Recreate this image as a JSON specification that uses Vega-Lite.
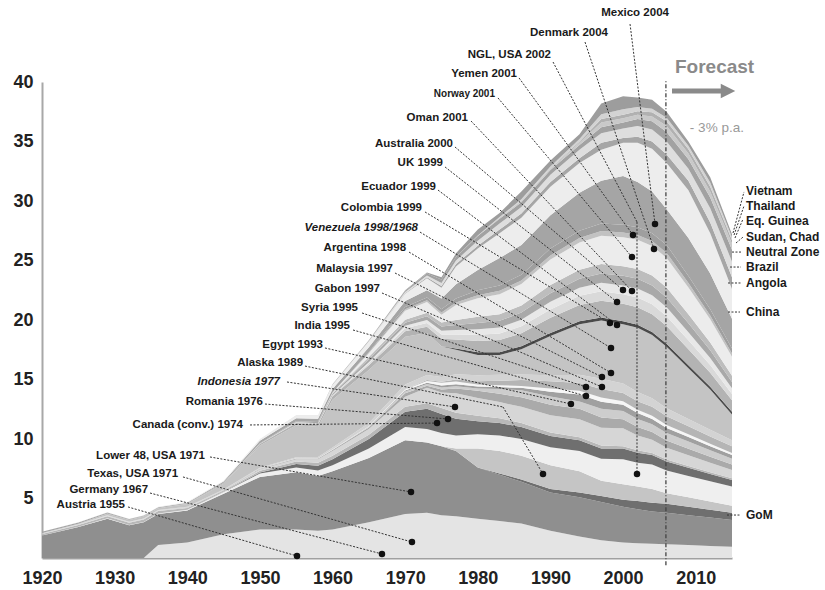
{
"$schema": "https://vega.github.io/schema/vega-lite/v6.json",
"width": 690, "height": 476,
"autosize": "none",
"padding": {"left": 42, "top": 82, "right": 93, "bottom": 32},
"background": "white",
"config": {"view": {"stroke": null}, "font": "Liberation Sans", "text": {"font": "Liberation Sans"}},
"datasets": {
"prod": [
{"year":1920,"s01_tx":0,"s02_l48":1.9,"s03_gom":0,"s04_ak":0,"s05_ngl":0,"s06_ca":0,"s07_ro":0.12,"s08_id":0.03,"s09_eg":0,"s10_in":0,"s11_sy":0,"s12_ga":0,"s13_my":0,"s14_ar":0.02,"s15_ve":0.02,"s16_ve_edge":0,"s17_co":0.01,"s18_ec":0,"s19_uk":0,"s20_au":0,"s21_om":0,"s22_no":0,"s23_ye":0,"s24_dk":0,"s25_mx":0.1,"s26_cn":0,"s27_ao":0,"s28_br":0,"s29_nz":0,"s30_sd":0,"s31_gq":0,"s32_th":0,"s33_vn":0},
{"year":1925,"s01_tx":0,"s02_l48":2.6,"s03_gom":0,"s04_ak":0,"s05_ngl":0.02,"s06_ca":0,"s07_ro":0.15,"s08_id":0.04,"s09_eg":0,"s10_in":0,"s11_sy":0,"s12_ga":0,"s13_my":0,"s14_ar":0.02,"s15_ve":0.02,"s16_ve_edge":0,"s17_co":0.02,"s18_ec":0,"s19_uk":0,"s20_au":0,"s21_om":0,"s22_no":0,"s23_ye":0,"s24_dk":0,"s25_mx":0.12,"s26_cn":0.01,"s27_ao":0,"s28_br":0,"s29_nz":0,"s30_sd":0,"s31_gq":0,"s32_th":0,"s33_vn":0},
{"year":1929,"s01_tx":0,"s02_l48":3.3,"s03_gom":0,"s04_ak":0,"s05_ngl":0.03,"s06_ca":0,"s07_ro":0.18,"s08_id":0.05,"s09_eg":0,"s10_in":0,"s11_sy":0,"s12_ga":0,"s13_my":0,"s14_ar":0.03,"s15_ve":0.13,"s16_ve_edge":0,"s17_co":0.03,"s18_ec":0,"s19_uk":0,"s20_au":0,"s21_om":0,"s22_no":0,"s23_ye":0,"s24_dk":0,"s25_mx":0.08,"s26_cn":0.02,"s27_ao":0,"s28_br":0,"s29_nz":0,"s30_sd":0,"s31_gq":0,"s32_th":0,"s33_vn":0},
{"year":1932,"s01_tx":0,"s02_l48":2.75,"s03_gom":0,"s04_ak":0,"s05_ngl":0.03,"s06_ca":0,"s07_ro":0.18,"s08_id":0.05,"s09_eg":0,"s10_in":0,"s11_sy":0,"s12_ga":0,"s13_my":0,"s14_ar":0.03,"s15_ve":0.15,"s16_ve_edge":0,"s17_co":0.03,"s18_ec":0,"s19_uk":0,"s20_au":0,"s21_om":0,"s22_no":0,"s23_ye":0,"s24_dk":0,"s25_mx":0.06,"s26_cn":0.02,"s27_ao":0,"s28_br":0,"s29_nz":0,"s30_sd":0,"s31_gq":0,"s32_th":0,"s33_vn":0},
{"year":1934,"s01_tx":0,"s02_l48":3.0,"s03_gom":0,"s04_ak":0,"s05_ngl":0.03,"s06_ca":0,"s07_ro":0.2,"s08_id":0.06,"s09_eg":0,"s10_in":0,"s11_sy":0,"s12_ga":0,"s13_my":0,"s14_ar":0.03,"s15_ve":0.17,"s16_ve_edge":0,"s17_co":0.03,"s18_ec":0,"s19_uk":0,"s20_au":0,"s21_om":0,"s22_no":0,"s23_ye":0,"s24_dk":0,"s25_mx":0.06,"s26_cn":0.02,"s27_ao":0,"s28_br":0,"s29_nz":0,"s30_sd":0,"s31_gq":0,"s32_th":0,"s33_vn":0},
{"year":1936,"s01_tx":1.1,"s02_l48":2.6,"s03_gom":0,"s04_ak":0,"s05_ngl":0.04,"s06_ca":0,"s07_ro":0.2,"s08_id":0.06,"s09_eg":0,"s10_in":0,"s11_sy":0,"s12_ga":0,"s13_my":0,"s14_ar":0.04,"s15_ve":0.14,"s16_ve_edge":0,"s17_co":0.03,"s18_ec":0,"s19_uk":0,"s20_au":0,"s21_om":0,"s22_no":0,"s23_ye":0,"s24_dk":0,"s25_mx":0.06,"s26_cn":0.03,"s27_ao":0,"s28_br":0,"s29_nz":0,"s30_sd":0,"s31_gq":0,"s32_th":0,"s33_vn":0},
{"year":1940,"s01_tx":1.3,"s02_l48":2.7,"s03_gom":0,"s04_ak":0,"s05_ngl":0.05,"s06_ca":0,"s07_ro":0.15,"s08_id":0.05,"s09_eg":0.02,"s10_in":0,"s11_sy":0,"s12_ga":0,"s13_my":0,"s14_ar":0.04,"s15_ve":0.22,"s16_ve_edge":0,"s17_co":0.05,"s18_ec":0,"s19_uk":0,"s20_au":0,"s21_om":0,"s22_no":0,"s23_ye":0,"s24_dk":0,"s25_mx":0.07,"s26_cn":0.05,"s27_ao":0,"s28_br":0,"s29_nz":0,"s30_sd":0,"s31_gq":0,"s32_th":0,"s33_vn":0},
{"year":1945,"s01_tx":2.0,"s02_l48":3.4,"s03_gom":0,"s04_ak":0,"s05_ngl":0.15,"s06_ca":0.02,"s07_ro":0.1,"s08_id":0.02,"s09_eg":0.02,"s10_in":0,"s11_sy":0,"s12_ga":0,"s13_my":0,"s14_ar":0.05,"s15_ve":0.48,"s16_ve_edge":0,"s17_co":0.08,"s18_ec":0,"s19_uk":0,"s20_au":0,"s21_om":0,"s22_no":0,"s23_ye":0,"s24_dk":0,"s25_mx":0.1,"s26_cn":0.08,"s27_ao":0,"s28_br":0,"s29_nz":0,"s30_sd":0,"s31_gq":0,"s32_th":0,"s33_vn":0},
{"year":1950,"s01_tx":2.4,"s02_l48":4.4,"s03_gom":0,"s04_ak":0,"s05_ngl":0.3,"s06_ca":0.08,"s07_ro":0.15,"s08_id":0.13,"s09_eg":0.05,"s10_in":0.01,"s11_sy":0,"s12_ga":0,"s13_my":0,"s14_ar":0.07,"s15_ve":1.86,"s16_ve_edge":0,"s17_co":0.12,"s18_ec":0.04,"s19_uk":0,"s20_au":0.04,"s21_om":0,"s22_no":0,"s23_ye":0,"s24_dk":0,"s25_mx":0.2,"s26_cn":0.15,"s27_ao":0,"s28_br":0,"s29_nz":0,"s30_sd":0,"s31_gq":0,"s32_th":0,"s33_vn":0},
{"year":1955,"s01_tx":2.4,"s02_l48":4.8,"s03_gom":0,"s04_ak":0,"s05_ngl":0.4,"s06_ca":0.3,"s07_ro":0.2,"s08_id":0.2,"s09_eg":0.06,"s10_in":0.01,"s11_sy":0,"s12_ga":0.01,"s13_my":0,"s14_ar":0.09,"s15_ve":2.68,"s16_ve_edge":0,"s17_co":0.2,"s18_ec":0.07,"s19_uk":0,"s20_au":0.08,"s21_om":0,"s22_no":0,"s23_ye":0,"s24_dk":0,"s25_mx":0.25,"s26_cn":0.2,"s27_ao":0,"s28_br":0.05,"s29_nz":0,"s30_sd":0,"s31_gq":0,"s32_th":0,"s33_vn":0},
{"year":1958,"s01_tx":2.3,"s02_l48":4.6,"s03_gom":0,"s04_ak":0,"s05_ngl":0.45,"s06_ca":0.4,"s07_ro":0.25,"s08_id":0.3,"s09_eg":0.06,"s10_in":0.01,"s11_sy":0,"s12_ga":0.01,"s13_my":0,"s14_ar":0.1,"s15_ve":2.54,"s16_ve_edge":0,"s17_co":0.22,"s18_ec":0.08,"s19_uk":0,"s20_au":0.1,"s21_om":0,"s22_no":0,"s23_ye":0,"s24_dk":0,"s25_mx":0.28,"s26_cn":0.25,"s27_ao":0,"s28_br":0.05,"s29_nz":0,"s30_sd":0,"s31_gq":0,"s32_th":0,"s33_vn":0},
{"year":1960,"s01_tx":2.4,"s02_l48":4.9,"s03_gom":0,"s04_ak":0,"s05_ngl":0.5,"s06_ca":0.5,"s07_ro":0.3,"s08_id":0.4,"s09_eg":0.07,"s10_in":0.02,"s11_sy":0,"s12_ga":0.02,"s13_my":0,"s14_ar":0.18,"s15_ve":4.01,"s16_ve_edge":0,"s17_co":0.3,"s18_ec":0.1,"s19_uk":0,"s20_au":0.1,"s21_om":0.05,"s22_no":0.05,"s23_ye":0,"s24_dk":0,"s25_mx":0.3,"s26_cn":0.3,"s27_ao":0,"s28_br":0.05,"s29_nz":0.05,"s30_sd":0,"s31_gq":0,"s32_th":0,"s33_vn":0},
{"year":1965,"s01_tx":3.0,"s02_l48":5.4,"s03_gom":0,"s04_ak":0,"s05_ngl":0.8,"s06_ca":0.8,"s07_ro":0.35,"s08_id":0.5,"s09_eg":0.12,"s10_in":0.07,"s11_sy":0,"s12_ga":0.03,"s13_my":0,"s14_ar":0.27,"s15_ve":4.46,"s16_ve_edge":0,"s17_co":0.4,"s18_ec":0.15,"s19_uk":0.1,"s20_au":0.25,"s21_om":0.2,"s22_no":0.3,"s23_ye":0.05,"s24_dk":0.05,"s25_mx":0.4,"s26_cn":0.45,"s27_ao":0,"s28_br":0.08,"s29_nz":0.07,"s30_sd":0,"s31_gq":0,"s32_th":0,"s33_vn":0},
{"year":1970,"s01_tx":3.7,"s02_l48":6.2,"s03_gom":0,"s04_ak":0,"s05_ngl":1.1,"s06_ca":1.3,"s07_ro":0.4,"s08_id":0.85,"s09_eg":0.3,"s10_in":0.14,"s11_sy":0.08,"s12_ga":0.1,"s13_my":0.02,"s14_ar":0.4,"s15_ve":4.01,"s16_ve_edge":0,"s17_co":0.45,"s18_ec":0.25,"s19_uk":0.22,"s20_au":0.25,"s21_om":0.25,"s22_no":0.75,"s23_ye":0.13,"s24_dk":0.2,"s25_mx":0.5,"s26_cn":0.6,"s27_ao":0.05,"s28_br":0.1,"s29_nz":0.1,"s30_sd":0,"s31_gq":0,"s32_th":0,"s33_vn":0.05},
{"year":1973,"s01_tx":3.8,"s02_l48":5.9,"s03_gom":0,"s04_ak":0,"s05_ngl":1.15,"s06_ca":1.7,"s07_ro":0.45,"s08_id":1.3,"s09_eg":0.17,"s10_in":0.15,"s11_sy":0.1,"s12_ga":0.15,"s13_my":0.08,"s14_ar":0.42,"s15_ve":3.53,"s16_ve_edge":0,"s17_co":0.54,"s18_ec":0.3,"s19_uk":0.27,"s20_au":0.3,"s21_om":0.3,"s22_no":0.9,"s23_ye":0.15,"s24_dk":0.24,"s25_mx":0.6,"s26_cn":1.0,"s27_ao":0.1,"s28_br":0.15,"s29_nz":0.15,"s30_sd":0,"s31_gq":0,"s32_th":0,"s33_vn":0.1},
{"year":1975,"s01_tx":3.6,"s02_l48":5.8,"s03_gom":0,"s04_ak":0,"s05_ngl":1.1,"s06_ca":1.6,"s07_ro":0.5,"s08_id":1.3,"s09_eg":0.25,"s10_in":0.17,"s11_sy":0.18,"s12_ga":0.22,"s13_my":0.1,"s14_ar":0.4,"s15_ve":2.58,"s16_ve_edge":0,"s17_co":0.63,"s18_ec":0.35,"s19_uk":0.32,"s20_au":0.35,"s21_om":0.35,"s22_no":0.65,"s23_ye":0.17,"s24_dk":0.28,"s25_mx":0.9,"s26_cn":0.9,"s27_ao":0.15,"s28_br":0.25,"s29_nz":0.3,"s30_sd":0,"s31_gq":0,"s32_th":0,"s33_vn":0.2},
{"year":1977,"s01_tx":3.5,"s02_l48":5.5,"s03_gom":0,"s04_ak":0.2,"s05_ngl":1.1,"s06_ca":1.4,"s07_ro":0.5,"s08_id":1.65,"s09_eg":0.4,"s10_in":0.18,"s11_sy":0.18,"s12_ga":0.22,"s13_my":0.18,"s14_ar":0.43,"s15_ve":2.06,"s16_ve_edge":0.1,"s17_co":0.76,"s18_ec":0.42,"s19_uk":0.38,"s20_au":0.42,"s21_om":0.42,"s22_no":1.26,"s23_ye":0.21,"s24_dk":0.33,"s25_mx":1.2,"s26_cn":1.5,"s27_ao":0.2,"s28_br":0.3,"s29_nz":0.3,"s30_sd":0,"s31_gq":0,"s32_th":0,"s33_vn":0.3},
{"year":1980,"s01_tx":3.3,"s02_l48":4.3,"s03_gom":0,"s04_ak":1.6,"s05_ngl":1.2,"s06_ca":1.1,"s07_ro":0.45,"s08_id":1.5,"s09_eg":0.6,"s10_in":0.2,"s11_sy":0.16,"s12_ga":0.17,"s13_my":0.28,"s14_ar":0.5,"s15_ve":1.69,"s16_ve_edge":0.25,"s17_co":0.94,"s18_ec":0.52,"s19_uk":0.47,"s20_au":0.52,"s21_om":0.52,"s22_no":1.56,"s23_ye":0.26,"s24_dk":0.41,"s25_mx":1.7,"s26_cn":1.8,"s27_ao":0.25,"s28_br":0.4,"s29_nz":0.4,"s30_sd":0,"s31_gq":0,"s32_th":0.05,"s33_vn":0.5},
{"year":1983,"s01_tx":3.1,"s02_l48":3.9,"s03_gom":0.1,"s04_ak":1.9,"s05_ngl":1.3,"s06_ca":1.05,"s07_ro":0.4,"s08_id":1.35,"s09_eg":0.7,"s10_in":0.4,"s11_sy":0.16,"s12_ga":0.15,"s13_my":0.38,"s14_ar":0.5,"s15_ve":1.66,"s16_ve_edge":0.25,"s17_co":1.01,"s18_ec":0.56,"s19_uk":0.5,"s20_au":0.56,"s21_om":0.56,"s22_no":1.68,"s23_ye":0.28,"s24_dk":0.45,"s25_mx":2.3,"s26_cn":2.1,"s27_ao":0.3,"s28_br":0.5,"s29_nz":0.4,"s30_sd":0.05,"s31_gq":0.05,"s32_th":0.05,"s33_vn":0.35},
{"year":1986,"s01_tx":2.9,"s02_l48":3.5,"s03_gom":0.2,"s04_ak":2.0,"s05_ngl":1.4,"s06_ca":1.0,"s07_ro":0.35,"s08_id":1.35,"s09_eg":0.8,"s10_in":0.6,"s11_sy":0.2,"s12_ga":0.16,"s13_my":0.5,"s14_ar":0.45,"s15_ve":2.14,"s16_ve_edge":0.25,"s17_co":1.08,"s18_ec":0.6,"s19_uk":0.54,"s20_au":0.6,"s21_om":0.6,"s22_no":1.8,"s23_ye":0.3,"s24_dk":0.48,"s25_mx":2.5,"s26_cn":2.3,"s27_ao":0.35,"s28_br":0.55,"s29_nz":0.4,"s30_sd":0.1,"s31_gq":0.05,"s32_th":0.1,"s33_vn":0.65},
{"year":1990,"s01_tx":2.3,"s02_l48":3.2,"s03_gom":0.3,"s04_ak":2.0,"s05_ngl":1.5,"s06_ca":0.95,"s07_ro":0.3,"s08_id":1.45,"s09_eg":0.87,"s10_in":0.7,"s11_sy":0.4,"s12_ga":0.27,"s13_my":0.62,"s14_ar":0.5,"s15_ve":3.29,"s16_ve_edge":0.25,"s17_co":1.28,"s18_ec":0.71,"s19_uk":0.64,"s20_au":0.71,"s21_om":0.71,"s22_no":2.13,"s23_ye":0.35,"s24_dk":0.57,"s25_mx":2.8,"s26_cn":2.4,"s27_ao":0.4,"s28_br":0.6,"s29_nz":0.4,"s30_sd":0.1,"s31_gq":0.05,"s32_th":0.15,"s33_vn":0.5},
{"year":1994,"s01_tx":1.8,"s02_l48":3.3,"s03_gom":0.4,"s04_ak":1.8,"s05_ngl":1.7,"s06_ca":0.9,"s07_ro":0.25,"s08_id":1.5,"s09_eg":0.9,"s10_in":0.6,"s11_sy":0.58,"s12_ga":0.32,"s13_my":0.65,"s14_ar":0.7,"s15_ve":4.25,"s16_ve_edge":0.25,"s17_co":1.37,"s18_ec":0.76,"s19_uk":0.68,"s20_au":0.76,"s21_om":0.76,"s22_no":2.28,"s23_ye":0.38,"s24_dk":0.61,"s25_mx":3.2,"s26_cn":2.5,"s27_ao":0.4,"s28_br":0.7,"s29_nz":0.4,"s30_sd":0.2,"s31_gq":0.1,"s32_th":0.2,"s33_vn":0.4},
{"year":1997,"s01_tx":1.5,"s02_l48":3.2,"s03_gom":0.5,"s04_ak":1.3,"s05_ngl":1.85,"s06_ca":0.85,"s07_ro":0.25,"s08_id":1.5,"s09_eg":0.85,"s10_in":0.75,"s11_sy":0.58,"s12_ga":0.36,"s13_my":0.72,"s14_ar":0.85,"s15_ve":4.89,"s16_ve_edge":0.25,"s17_co":1.42,"s18_ec":0.79,"s19_uk":0.71,"s20_au":0.79,"s21_om":0.79,"s22_no":2.37,"s23_ye":0.4,"s24_dk":0.63,"s25_mx":3.6,"s26_cn":2.6,"s27_ao":0.6,"s28_br":0.8,"s29_nz":0.5,"s30_sd":0.4,"s31_gq":0.3,"s32_th":0.4,"s33_vn":0.9},
{"year":2000,"s01_tx":1.3,"s02_l48":3.0,"s03_gom":0.6,"s04_ak":1.3,"s05_ngl":2.1,"s06_ca":0.9,"s07_ro":0.2,"s08_id":1.5,"s09_eg":0.75,"s10_in":0.7,"s11_sy":0.52,"s12_ga":0.3,"s13_my":0.7,"s14_ar":0.8,"s15_ve":4.98,"s16_ve_edge":0.25,"s17_co":1.46,"s18_ec":0.81,"s19_uk":0.73,"s20_au":0.81,"s21_om":0.81,"s22_no":2.43,"s23_ye":0.4,"s24_dk":0.65,"s25_mx":4.1,"s26_cn":2.8,"s27_ao":0.4,"s28_br":0.8,"s29_nz":0.5,"s30_sd":0.35,"s31_gq":0.3,"s32_th":0.45,"s33_vn":1.1},
{"year":2002,"s01_tx":1.25,"s02_l48":2.85,"s03_gom":0.7,"s04_ak":1.2,"s05_ngl":2.0,"s06_ca":0.85,"s07_ro":0.2,"s08_id":1.25,"s09_eg":0.7,"s10_in":0.68,"s11_sy":0.5,"s12_ga":0.28,"s13_my":0.72,"s14_ar":0.78,"s15_ve":5.39,"s16_ve_edge":0.25,"s17_co":1.48,"s18_ec":0.82,"s19_uk":0.74,"s20_au":0.82,"s21_om":0.82,"s22_no":2.46,"s23_ye":0.41,"s24_dk":0.65,"s25_mx":3.8,"s26_cn":3.3,"s27_ao":0.5,"s28_br":0.9,"s29_nz":0.6,"s30_sd":0.35,"s31_gq":0.3,"s32_th":0.35,"s33_vn":0.8},
{"year":2004,"s01_tx":1.2,"s02_l48":2.7,"s03_gom":0.75,"s04_ak":1.15,"s05_ngl":2.05,"s06_ca":0.8,"s07_ro":0.18,"s08_id":1.1,"s09_eg":0.65,"s10_in":0.66,"s11_sy":0.45,"s12_ga":0.26,"s13_my":0.76,"s14_ar":0.72,"s15_ve":5.32,"s16_ve_edge":0.25,"s17_co":1.49,"s18_ec":0.83,"s19_uk":0.75,"s20_au":0.83,"s21_om":0.83,"s22_no":2.49,"s23_ye":0.42,"s24_dk":0.66,"s25_mx":3.5,"s26_cn":3.6,"s27_ao":0.6,"s28_br":1.0,"s29_nz":0.7,"s30_sd":0.4,"s31_gq":0.35,"s32_th":0.3,"s33_vn":0.75},
{"year":2006,"s01_tx":1.15,"s02_l48":2.65,"s03_gom":0.75,"s04_ak":0.9,"s05_ngl":1.9,"s06_ca":0.75,"s07_ro":0.17,"s08_id":1.0,"s09_eg":0.6,"s10_in":0.64,"s11_sy":0.42,"s12_ga":0.24,"s13_my":0.74,"s14_ar":0.68,"s15_ve":5.16,"s16_ve_edge":0.25,"s17_co":1.49,"s18_ec":0.83,"s19_uk":0.75,"s20_au":0.83,"s21_om":0.83,"s22_no":2.49,"s23_ye":0.42,"s24_dk":0.66,"s25_mx":3.0,"s26_cn":3.9,"s27_ao":0.7,"s28_br":1.1,"s29_nz":0.8,"s30_sd":0.5,"s31_gq":0.4,"s32_th":0.3,"s33_vn":0.5},
{"year":2009,"s01_tx":1.1,"s02_l48":2.5,"s03_gom":0.7,"s04_ak":0.8,"s05_ngl":1.8,"s06_ca":0.68,"s07_ro":0.16,"s08_id":0.9,"s09_eg":0.55,"s10_in":0.6,"s11_sy":0.38,"s12_ga":0.22,"s13_my":0.68,"s14_ar":0.62,"s15_ve":4.26,"s16_ve_edge":0.25,"s17_co":1.35,"s18_ec":0.75,"s19_uk":0.68,"s20_au":0.75,"s21_om":0.75,"s22_no":2.25,"s23_ye":0.37,"s24_dk":0.6,"s25_mx":3.2,"s26_cn":4.0,"s27_ao":0.8,"s28_br":1.0,"s29_nz":0.8,"s30_sd":0.5,"s31_gq":0.35,"s32_th":0.3,"s33_vn":0.35},
{"year":2012,"s01_tx":1.0,"s02_l48":2.4,"s03_gom":0.65,"s04_ak":0.7,"s05_ngl":1.7,"s06_ca":0.6,"s07_ro":0.15,"s08_id":0.8,"s09_eg":0.5,"s10_in":0.55,"s11_sy":0.35,"s12_ga":0.2,"s13_my":0.62,"s14_ar":0.56,"s15_ve":3.37,"s16_ve_edge":0.25,"s17_co":1.17,"s18_ec":0.65,"s19_uk":0.59,"s20_au":0.65,"s21_om":0.65,"s22_no":1.95,"s23_ye":0.32,"s24_dk":0.52,"s25_mx":3.0,"s26_cn":3.4,"s27_ao":0.9,"s28_br":1.2,"s29_nz":0.9,"s30_sd":0.5,"s31_gq":0.4,"s32_th":0.35,"s33_vn":0.45},
{"year":2015,"s01_tx":0.95,"s02_l48":2.25,"s03_gom":0.6,"s04_ak":0.6,"s05_ngl":1.6,"s06_ca":0.55,"s07_ro":0.15,"s08_id":0.7,"s09_eg":0.45,"s10_in":0.5,"s11_sy":0.3,"s12_ga":0.18,"s13_my":0.56,"s14_ar":0.5,"s15_ve":2.16,"s16_ve_edge":0.25,"s17_co":0.95,"s18_ec":0.53,"s19_uk":0.48,"s20_au":0.53,"s21_om":0.53,"s22_no":1.59,"s23_ye":0.27,"s24_dk":0.42,"s25_mx":2.5,"s26_cn":2.5,"s27_ao":1.0,"s28_br":1.3,"s29_nz":1.0,"s30_sd":0.5,"s31_gq":0.3,"s32_th":0.25,"s33_vn":0.25}
],
"leaders": [
{"x":2000.96,"y":44.87,"x2":2004.4,"y2":28.07},
{"x":1994.76,"y":43.36,"x2":2004.26,"y2":25.97},
{"x":1990.36,"y":41.68,"x2":2001.92,"y2":28.24},
{"x":2001.92,"y":28.24,"x2":2001.92,"y2":7.06},
{"x":1985.68,"y":40.34,"x2":2001.37,"y2":27.14},
{"x":1982.78,"y":38.66,"x2":2001.23,"y2":25.29},
{"x":1979.07,"y":36.72,"x2":2001.23,"y2":22.44},
{"x":1976.86,"y":34.54,"x2":1999.99,"y2":22.52},
{"x":1975.49,"y":32.86,"x2":1999.17,"y2":21.51},
{"x":1974.52,"y":30.92,"x2":1999.17,"y2":19.58},
{"x":1972.73,"y":29.08,"x2":1998.2,"y2":19.75},
{"x":1972.04,"y":27.39,"x2":1998.34,"y2":17.65},
{"x":1970.53,"y":25.71,"x2":1998.34,"y2":15.55},
{"x":1968.6,"y":23.95,"x2":1997.1,"y2":15.21},
{"x":1966.81,"y":22.27,"x2":1997.1,"y2":14.37},
{"x":1964.06,"y":20.59,"x2":1994.9,"y2":14.37},
{"x":1962.82,"y":19.16,"x2":1994.9,"y2":13.61},
{"x":1958.96,"y":17.65,"x2":1992.83,"y2":12.94},
{"x":1956.21,"y":16.13,"x2":1983.47,"y2":12.69},
{"x":1983.47,"y":12.69,"x2":1988.98,"y2":7.06},
{"x":1953.73,"y":14.79,"x2":1976.86,"y2":12.69},
{"x":1950.7,"y":12.94,"x2":1975.9,"y2":11.68},
{"x":1948.64,"y":11.18,"x2":1974.39,"y2":11.34},
{"x":1943.13,"y":8.49,"x2":1970.81,"y2":5.55},
{"x":1939.41,"y":6.81,"x2":1970.94,"y2":1.34},
{"x":1934.87,"y":5.46,"x2":1966.81,"y2":0.34},
{"x":1931.84,"y":4.29,"x2":1955.11,"y2":0.17},
{"x":2015.14,"y":27.31,"x2":2016.65,"y2":30.76},
{"x":2015.28,"y":27.14,"x2":2016.65,"y2":29.58},
{"x":2015.41,"y":26.89,"x2":2016.52,"y2":28.49},
{"x":2015.55,"y":26.47,"x2":2016.52,"y2":26.97},
{"x":2015.0,"y":25.71,"x2":2016.38,"y2":25.71},
{"x":2014.73,"y":24.45,"x2":2016.24,"y2":24.45},
{"x":2014.45,"y":23.11,"x2":2016.24,"y2":23.11},
{"x":2014.45,"y":20.67,"x2":2016.1,"y2":20.67},
{"x":2014.31,"y":3.61,"x2":2016.1,"y2":3.61}
],
"dots": [
{"x":2004.4,"y":28.07},{"x":2004.26,"y":25.97},{"x":2001.92,"y":7.06},{"x":2001.37,"y":27.14},
{"x":2001.23,"y":25.29},{"x":2001.23,"y":22.44},{"x":1999.99,"y":22.52},{"x":1999.17,"y":21.51},
{"x":1999.17,"y":19.58},{"x":1998.2,"y":19.75},{"x":1998.34,"y":17.65},{"x":1998.34,"y":15.55},
{"x":1997.1,"y":15.21},{"x":1997.1,"y":14.37},{"x":1994.9,"y":14.37},{"x":1994.9,"y":13.61},
{"x":1992.83,"y":12.94},{"x":1988.98,"y":7.06},{"x":1976.86,"y":12.69},{"x":1975.9,"y":11.68},
{"x":1974.39,"y":11.34},{"x":1970.81,"y":5.55},{"x":1970.94,"y":1.34},{"x":1966.81,"y":0.34},
{"x":1955.11,"y":0.17}
],
"labelsLeft": [
{"x":1997.93,"y":44.12,"t":"Denmark 2004"},
{"x":1990.08,"y":42.27,"t":"NGL, USA 2002"},
{"x":1985.4,"y":40.67,"t":"Yemen 2001"},
{"x":1978.65,"y":36.97,"t":"Oman 2001"},
{"x":1976.59,"y":34.79,"t":"Australia 2000"},
{"x":1975.21,"y":33.19,"t":"UK 1999"},
{"x":1974.25,"y":31.18,"t":"Ecuador 1999"},
{"x":1972.32,"y":29.41,"t":"Colombia 1999"},
{"x":1970.12,"y":26.05,"t":"Argentina 1998"},
{"x":1968.33,"y":24.29,"t":"Malaysia 1997"},
{"x":1966.54,"y":22.61,"t":"Gabon 1997"},
{"x":1963.51,"y":21.01,"t":"Syria 1995"},
{"x":1962.41,"y":19.5,"t":"India 1995"},
{"x":1958.69,"y":17.9,"t":"Egypt 1993"},
{"x":1955.94,"y":16.39,"t":"Alaska 1989"},
{"x":1950.43,"y":13.11,"t":"Romania 1976"},
{"x":1947.67,"y":11.18,"t":"Canada (conv.) 1974"},
{"x":1942.44,"y":8.57,"t":"Lower 48, USA  1971"},
{"x":1938.73,"y":7.06,"t":"Texas, USA 1971"},
{"x":1934.6,"y":5.71,"t":"Germany 1967"},
{"x":1931.43,"y":4.45,"t":"Austria 1955"}
],
"labelsItalic": [
{"x":1971.77,"y":27.73,"t":"Venezuela 1998/1968"},
{"x":1952.77,"y":14.79,"t":"Indonesia 1977"}
],
"labelsSmall": [{"x":1982.37,"y":38.99,"t":"Norway 2001"}],
"labelsTop": [{"x":2001.65,"y":45.8,"t":"Mexico 2004"}],
"labelsRight": [
{"x":2016.93,"y":30.87,"t":"Vietnam"},
{"x":2016.93,"y":29.6,"t":"Thailand"},
{"x":2016.93,"y":28.34,"t":"Eq. Guinea"},
{"x":2016.93,"y":27.0,"t":"Sudan, Chad"},
{"x":2016.93,"y":25.69,"t":"Neutral Zone"},
{"x":2016.93,"y":24.48,"t":"Brazil"},
{"x":2016.93,"y":23.08,"t":"Angola"},
{"x":2016.93,"y":20.7,"t":"China"},
{"x":2016.93,"y":3.61,"t":"GoM"}
],
"forecastLine": [{"x":2005.9,"y":-0.6,"y2":40.2}],
"forecastText": [{"x":2007.15,"y":41.26,"t":"Forecast"}],
"rateText": [{"x":2009.2,"y":36.1,"t":"- 3% p.a."}],
"arrowShaft": [{"x":2006.74,"x2":2013.7,"y":39.24}],
"arrowHead": [{"x":2014.45,"y":39.24}]
},
"layer": [
{
"data": {"name": "prod"},
"transform": [{"fold": ["s01_tx","s02_l48","s03_gom","s04_ak","s05_ngl","s06_ca","s07_ro","s08_id","s09_eg","s10_in","s11_sy","s12_ga","s13_my","s14_ar","s15_ve","s16_ve_edge","s17_co","s18_ec","s19_uk","s20_au","s21_om","s22_no","s23_ye","s24_dk","s25_mx","s26_cn","s27_ao","s28_br","s29_nz","s30_sd","s31_gq","s32_th","s33_vn"], "as": ["series", "mbd"]}],
"mark": {"type": "area", "interpolate": "linear"},
"encoding": {
"x": {"field": "year", "type": "quantitative", "scale": {"domain": [1920, 2015], "nice": false, "zero": false},
"axis": {"values": [1920,1930,1940,1950,1960,1970,1980,1990,2000,2010], "format": "d", "title": null, "labelFontSize": 18, "labelFontWeight": "bold", "labelColor": "#222222", "ticks": false, "labelPadding": 11, "domainColor": "#a0a0a0", "domainWidth": 2, "grid": false, "labelFlush": false, "labelFont": "Liberation Sans"}},
"y": {"field": "mbd", "type": "quantitative", "stack": "zero", "scale": {"domain": [0, 40], "nice": false},
"axis": {"values": [5,10,15,20,25,30,35,40], "title": null, "labelFontSize": 18, "labelFontWeight": "bold", "labelColor": "#222222", "ticks": false, "labelPadding": 9, "domainColor": "#a8a8a8", "domainWidth": 2, "grid": false, "labelFont": "Liberation Sans"}},
"color": {"field": "series", "type": "nominal", "legend": null, "scale": {
"domain": ["s01_tx","s02_l48","s03_gom","s04_ak","s05_ngl","s06_ca","s07_ro","s08_id","s09_eg","s10_in","s11_sy","s12_ga","s13_my","s14_ar","s15_ve","s16_ve_edge","s17_co","s18_ec","s19_uk","s20_au","s21_om","s22_no","s23_ye","s24_dk","s25_mx","s26_cn","s27_ao","s28_br","s29_nz","s30_sd","s31_gq","s32_th","s33_vn"],
"range": ["#e4e4e4","#8f8f8f","#6f6f6f","#c5c5c5","#efefef","#6f6f6f","#b8b8b8","#d6d6d6","#aaaaaa","#cdcdcd","#a0a0a0","#f6f6f6","#b5b5b5","#d3d3d3","#c4c4c4","#4a4a4a","#b3b3b3","#d9d9d9","#e8e8e8","#a9a9a9","#bdbdbd","#ececec","#c2c2c2","#9f9f9f","#a5a5a5","#ededed","#a6a6a6","#dedede","#a2a2a2","#c9c9c9","#b1b1b1","#d3d3d3","#9d9d9d"]}},
"order": {"field": "series", "type": "ordinal", "sort": "ascending"}
}
},
{
"data": {"name": "forecastLine"},
"mark": {"type": "rule", "color": "#444444", "strokeWidth": 1.3, "strokeDash": [4, 2, 1, 2]},
"encoding": {
"x": {"field": "x", "type": "quantitative", "scale": {"domain": [1920, 2015], "nice": false, "zero": false}, "axis": {"title": null}},
"y": {"field": "y", "type": "quantitative", "scale": {"domain": [0, 40], "nice": false}, "axis": {"title": null}},
"y2": {"field": "y2"}
}
},
{
"data": {"name": "leaders"},
"mark": {"type": "rule", "color": "#333333", "strokeWidth": 1, "strokeDash": [2, 1.5]},
"encoding": {
"x": {"field": "x", "type": "quantitative", "scale": {"domain": [1920, 2015], "nice": false, "zero": false}, "axis": {"title": null}},
"y": {"field": "y", "type": "quantitative", "scale": {"domain": [0, 40], "nice": false}, "axis": {"title": null}},
"x2": {"field": "x2"},
"y2": {"field": "y2"}
}
},
{
"data": {"name": "dots"},
"mark": {"type": "circle", "size": 42, "color": "#111111", "opacity": 1},
"encoding": {
"x": {"field": "x", "type": "quantitative", "scale": {"domain": [1920, 2015], "nice": false, "zero": false}, "axis": {"title": null}},
"y": {"field": "y", "type": "quantitative", "scale": {"domain": [0, 40], "nice": false}, "axis": {"title": null}}
}
},
{
"data": {"name": "labelsLeft"},
"mark": {"type": "text", "align": "right", "baseline": "middle", "fontSize": 11.5, "fontWeight": "bold", "color": "#1a1a1a", "font": "Liberation Sans"},
"encoding": {
"x": {"field": "x", "type": "quantitative", "scale": {"domain": [1920, 2015], "nice": false, "zero": false}, "axis": {"title": null}},
"y": {"field": "y", "type": "quantitative", "scale": {"domain": [0, 40], "nice": false}, "axis": {"title": null}},
"text": {"field": "t"}
}
},
{
"data": {"name": "labelsItalic"},
"mark": {"type": "text", "align": "right", "baseline": "middle", "fontSize": 11.5, "fontWeight": "bold", "fontStyle": "italic", "color": "#1a1a1a", "font": "Liberation Sans"},
"encoding": {
"x": {"field": "x", "type": "quantitative", "scale": {"domain": [1920, 2015], "nice": false, "zero": false}, "axis": {"title": null}},
"y": {"field": "y", "type": "quantitative", "scale": {"domain": [0, 40], "nice": false}, "axis": {"title": null}},
"text": {"field": "t"}
}
},
{
"data": {"name": "labelsSmall"},
"mark": {"type": "text", "align": "right", "baseline": "middle", "fontSize": 10, "fontWeight": "bold", "color": "#1a1a1a", "font": "Liberation Sans"},
"encoding": {
"x": {"field": "x", "type": "quantitative", "scale": {"domain": [1920, 2015], "nice": false, "zero": false}, "axis": {"title": null}},
"y": {"field": "y", "type": "quantitative", "scale": {"domain": [0, 40], "nice": false}, "axis": {"title": null}},
"text": {"field": "t"}
}
},
{
"data": {"name": "labelsTop"},
"mark": {"type": "text", "align": "center", "baseline": "middle", "fontSize": 11.5, "fontWeight": "bold", "color": "#1a1a1a", "font": "Liberation Sans"},
"encoding": {
"x": {"field": "x", "type": "quantitative", "scale": {"domain": [1920, 2015], "nice": false, "zero": false}, "axis": {"title": null}},
"y": {"field": "y", "type": "quantitative", "scale": {"domain": [0, 40], "nice": false}, "axis": {"title": null}},
"text": {"field": "t"}
}
},
{
"data": {"name": "labelsRight"},
"mark": {"type": "text", "align": "left", "baseline": "middle", "fontSize": 12, "fontWeight": "bold", "color": "#1a1a1a", "font": "Liberation Sans"},
"encoding": {
"x": {"field": "x", "type": "quantitative", "scale": {"domain": [1920, 2015], "nice": false, "zero": false}, "axis": {"title": null}},
"y": {"field": "y", "type": "quantitative", "scale": {"domain": [0, 40], "nice": false}, "axis": {"title": null}},
"text": {"field": "t"}
}
},
{
"data": {"name": "forecastText"},
"mark": {"type": "text", "align": "left", "baseline": "middle", "fontSize": 19, "fontWeight": "bold", "color": "#8a8a8a", "font": "Liberation Sans"},
"encoding": {
"x": {"field": "x", "type": "quantitative", "scale": {"domain": [1920, 2015], "nice": false, "zero": false}, "axis": {"title": null}},
"y": {"field": "y", "type": "quantitative", "scale": {"domain": [0, 40], "nice": false}, "axis": {"title": null}},
"text": {"field": "t"}
}
},
{
"data": {"name": "rateText"},
"mark": {"type": "text", "align": "left", "baseline": "middle", "fontSize": 13.5, "color": "#999999", "font": "Liberation Sans"},
"encoding": {
"x": {"field": "x", "type": "quantitative", "scale": {"domain": [1920, 2015], "nice": false, "zero": false}, "axis": {"title": null}},
"y": {"field": "y", "type": "quantitative", "scale": {"domain": [0, 40], "nice": false}, "axis": {"title": null}},
"text": {"field": "t"}
}
},
{
"data": {"name": "arrowShaft"},
"mark": {"type": "rule", "color": "#8a8a8a", "strokeWidth": 5},
"encoding": {
"x": {"field": "x", "type": "quantitative", "scale": {"domain": [1920, 2015], "nice": false, "zero": false}, "axis": {"title": null}},
"x2": {"field": "x2"},
"y": {"field": "y", "type": "quantitative", "scale": {"domain": [0, 40], "nice": false}, "axis": {"title": null}}
}
},
{
"data": {"name": "arrowHead"},
"mark": {"type": "point", "shape": "M-1,-1L1,0L-1,1Z", "size": 210, "filled": true, "color": "#8a8a8a", "opacity": 1},
"encoding": {
"x": {"field": "x", "type": "quantitative", "scale": {"domain": [1920, 2015], "nice": false, "zero": false}, "axis": {"title": null}},
"y": {"field": "y", "type": "quantitative", "scale": {"domain": [0, 40], "nice": false}, "axis": {"title": null}}
}
}
]
}
